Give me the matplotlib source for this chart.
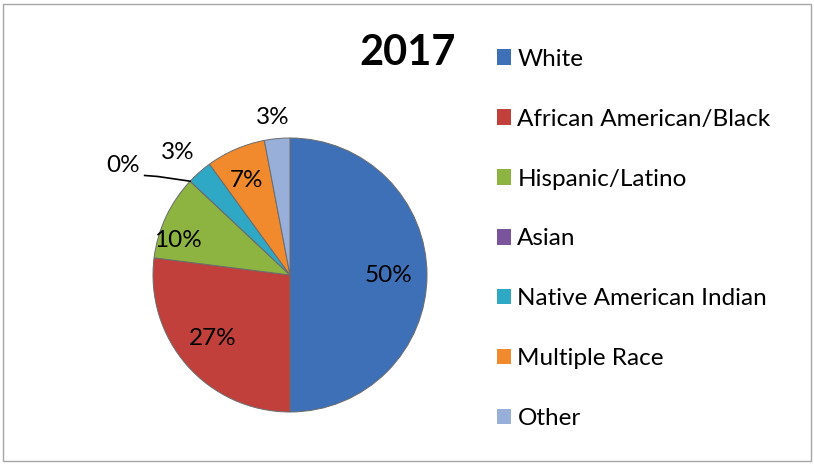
import numpy as np
import matplotlib.pyplot as plt
from matplotlib.patches import Rectangle

plt.rcParams['font.family'] = ['Lato', 'DejaVu Sans']

# 2017 enrollment by race
labels = ['White', 'African American/Black', 'Hispanic/Latino', 'Asian',
          'Native American Indian', 'Multiple Race', 'Other']
values = [50, 27, 10, 0, 3, 7, 3]
colors = ['#3d70b6', '#c1403c', '#8db441', '#7a559e', '#2fa8c6', '#f08a2c', '#98afd9']
year = '2017'

# radial position of each percent label (fraction of radius) + angle tweak (deg)
label_r = [0.72, 0.73, 0.86, 1.46, 1.21, 0.76, 1.16]
label_da = [0, -2, 8, 10, 1, 1, 1]

W, H = 814, 465
fig = plt.figure(figsize=(W / 100, H / 100), dpi=100)
ax = fig.add_axes([0, 0, 1, 1])

# chart frame
ax.add_patch(Rectangle((2.5, 3.5), W - 6, H - 7, fill=False, ec='#a6a6a6', lw=1.0))

cx, cy, R = 290, H - 275, 137
wedges, _ = ax.pie(values, colors=colors, startangle=90, counterclock=False,
                   center=(cx, cy), radius=R, frame=True,
                   wedgeprops=dict(edgecolor='#6b6b6b', linewidth=0.7))
ax.set_xlim(0, W)
ax.set_ylim(0, H)
ax.set_aspect('equal')
ax.axis('off')

# percent labels
total = float(sum(values))
start = 90.0
for i, v in enumerate(values):
    span = 360.0 * v / total
    mid = start - span / 2 + label_da[i]
    start -= span
    a = np.deg2rad(mid)
    x = cx + label_r[i] * R * np.cos(a)
    y = cy + label_r[i] * R * np.sin(a)
    ax.text(x, y, f'{v}%', ha='center', va='center', fontsize=17.5, color='black')
    if v == 0:
        # leader line for the empty slice
        edge = np.deg2rad(mid - label_da[i])
        ex, ey = cx + R * np.cos(edge), cy + R * np.sin(edge)
        ax.plot([x + 22, x + 35, ex], [y - 10, y - 11, ey], color='black', lw=1.2)

ax.text(408, H - 53, year, ha='center', va='center', fontsize=30, fontweight='bold')

leg = ax.legend(wedges, labels, loc='upper left', bbox_to_anchor=(487 / W, 1 - 39 / H),
                frameon=False, fontsize=17.5, handlelength=0.6, handleheight=0.6,
                handletextpad=0.25, labelspacing=1.6, borderaxespad=0)
for h in leg.legend_handles:
    h.set_edgecolor('none')

fig.savefig('out.png', dpi=100)
